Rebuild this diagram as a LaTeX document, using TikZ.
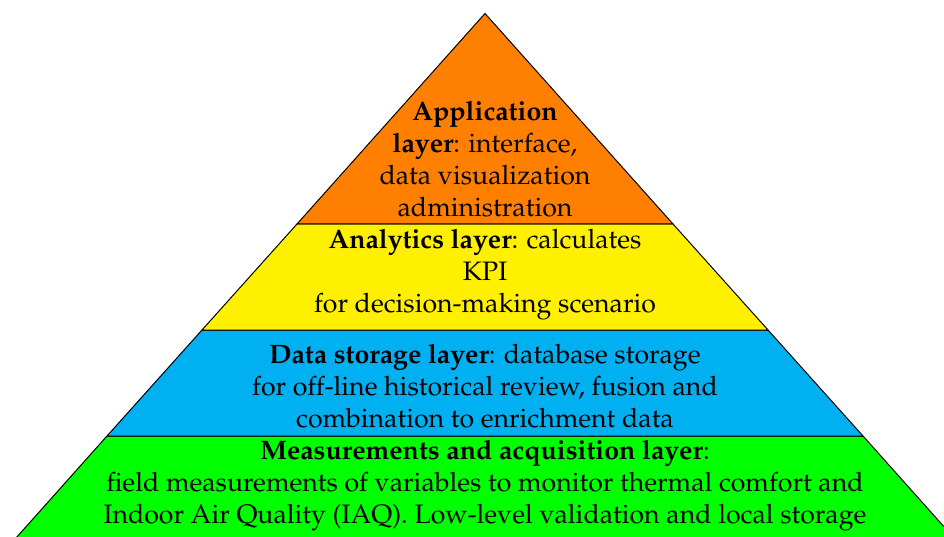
\documentclass[tikz,border=0pt]{standalone}
\usepackage[T1]{fontenc}
\usepackage{mathpazo}
\definecolor{layorange}{RGB}{255,128,0}
\definecolor{layyellow}{RGB}{255,240,0}
\definecolor{layblue}{RGB}{0,176,240}
\definecolor{laygreen}{RGB}{0,255,0}
\tikzset{
  layerband/.style={draw=black, line width=1pt, line join=miter},
  layertext/.style={align=center, inner sep=0pt, font=\fontsize{26.7}{32}\selectfont},
}
\begin{document}
\begin{tikzpicture}[x=1pt,y=1pt]
\useasboundingbox (0,0) rectangle (944,536);
\clip (0,0) rectangle (944,536);
% corner coordinates
\coordinate (apex) at (485,522.5);
\coordinate (l1) at (297,312); \coordinate (r1) at (673,312);
\coordinate (l2) at (202,206); \coordinate (r2) at (768,206);
\coordinate (l3) at (107,100); \coordinate (r3) at (863,100);
\coordinate (l4) at (17.4,0);  \coordinate (r4) at (952.6,0);
\coordinate (l5) at (-9,-30);  \coordinate (r5) at (979,-30);
% bands
\draw[layerband, fill=laygreen]  (l3) -- (r3) -- (r5) -- (l5) -- cycle;
\draw[layerband, fill=layblue]   (l2) -- (r2) -- (r3) -- (l3) -- cycle;
\draw[layerband, fill=layyellow] (l1) -- (r1) -- (r2) -- (l2) -- cycle;
\draw[layerband, fill=layorange] (apex) -- (r1) -- (l1) -- cycle;
% texts
\node[layertext] (app) at (485,377) {\textbf{Application}\\\textbf{layer}: interface,\\data visualization\\administration};
\node[layertext] (ana) at (485,261) {\textbf{Analytics layer}: calculates\\KPI\\for decision-making scenario};
\node[layertext] (sto) at (485,150) {\textbf{Data storage layer}: database storage\\for off-line historical review, fusion and\\combination to enrichment data};
\node[layertext] (mea) at (485,50) {\textbf{Measurements and acquisition layer}:\\field measurements of variables to monitor thermal comfort and\\Indoor Air Quality (IAQ). Low-level validation and local storage};
\end{tikzpicture}
\end{document}
